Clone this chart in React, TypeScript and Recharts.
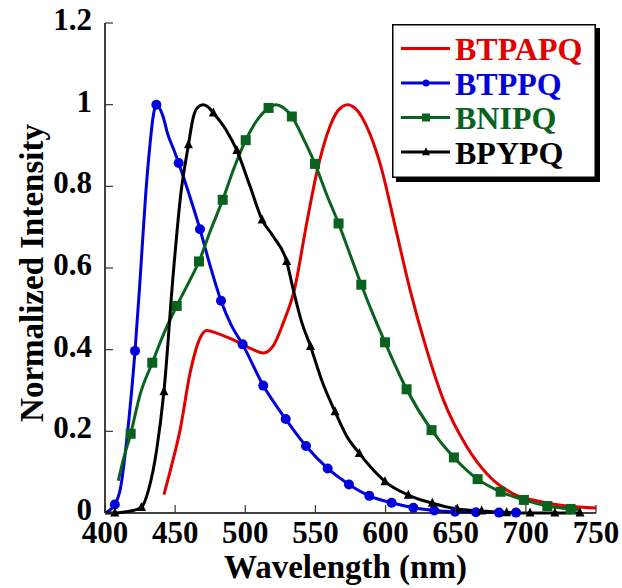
import React from "react";
import { LineChart, Line, XAxis, YAxis } from "recharts";

const FONT = "'Liberation Serif', 'Times New Roman', Times, serif";

const xTicks = [400, 450, 500, 550, 600, 650, 700, 750];
const yTicks = [0, 0.2, 0.4, 0.6, 0.8, 1, 1.2];

// [wavelength (nm), normalized intensity, 1 = draw marker]
const btpapq: number[][] = [
  [442, 0.045], [447, 0.11], [453.5, 0.203], [460.6, 0.342], [467.7, 0.428], [472.5, 0.447],
  [480, 0.44], [491.5, 0.424], [505.7, 0.4], [512.8, 0.392], [520, 0.41], [527, 0.465],
  [535, 0.547], [543.8, 0.71], [550.9, 0.833], [560.4, 0.947], [566, 0.985], [573, 1.0],
  [580, 0.985], [586.5, 0.947], [596, 0.857], [607.9, 0.686], [617.4, 0.547], [629.3, 0.4],
  [641.2, 0.277], [657.8, 0.163], [672, 0.097], [691, 0.047], [710, 0.028], [729, 0.017],
  [750, 0.012],
];

const btppq: number[][] = [
  [400, 0], [407, 0.021, 1], [411, 0.06], [415.5, 0.179], [421.4, 0.397, 1], [425, 0.571],
  [429, 0.78], [432, 0.9], [434.5, 0.975], [436.6, 1.0, 1], [441, 0.975], [445, 0.925],
  [449, 0.89], [452.5, 0.857, 1], [460, 0.78], [467.7, 0.695, 1], [475, 0.605],
  [482.7, 0.52, 1], [490, 0.46], [498.1, 0.413, 1], [512.8, 0.312, 1], [528.8, 0.23, 1],
  [543.3, 0.164, 1], [558.7, 0.109, 1], [573.9, 0.07, 1], [588.4, 0.042, 1],
  [604.3, 0.025, 1], [619.8, 0.013, 1], [634.7, 0.006, 1], [649.5, 0.003, 1],
  [664.4, 0.002, 1], [680.8, 0.001, 1], [693, 0.001, 1],
];

const bnipq: number[][] = [
  [409.5, 0.079], [413, 0.13], [418.3, 0.194, 1], [425, 0.29], [433.7, 0.368, 1],
  [442, 0.44], [451.1, 0.507, 1], [459, 0.56], [467, 0.616, 1], [475, 0.69],
  [483.9, 0.767, 1], [492, 0.845], [500.3, 0.913, 1], [508, 0.96], [516.6, 0.992, 1],
  [522, 1.0], [527, 0.993], [533.2, 0.971, 1], [541, 0.92], [549.7, 0.855, 1], [558, 0.78],
  [566.5, 0.709, 1], [574.5, 0.635], [582.7, 0.559, 1], [591, 0.487], [599.6, 0.418, 1],
  [615, 0.303, 1], [632.8, 0.203, 1], [648.7, 0.136, 1], [665.6, 0.083, 1], [682, 0.052, 1],
  [698.6, 0.032, 1], [715.3, 0.017, 1], [731.9, 0.01, 1], [739, 0.008],
];

const bpypq: number[][] = [
  [400, 0], [407, 0, 1], [415, 0.003], [420, 0.006], [426, 0.014, 1], [431, 0.056],
  [436.8, 0.154], [442, 0.297, 1], [448.7, 0.588], [454, 0.78], [459.5, 0.902, 1],
  [463, 0.97], [466, 0.993], [470, 1.0], [474, 0.993], [477.2, 0.98, 1], [486, 0.94],
  [494, 0.888, 1], [503.4, 0.8], [512, 0.718, 1], [520, 0.677], [529.5, 0.616, 1],
  [534.2, 0.547], [540, 0.47], [546.5, 0.408, 1], [555, 0.32], [564, 0.248, 1], [572, 0.19],
  [581.3, 0.146, 1], [590, 0.11], [599.6, 0.077, 1], [616.2, 0.044, 1], [633.3, 0.024, 1],
  [651.1, 0.01, 1], [668.5, 0.005, 1], [686.3, 0.001, 1], [703, 0, 1], [720.7, 0, 1],
  [738.6, 0, 1],
];

const toRows = (pts: number[][]) => pts.map(([x, y, m]) => ({ x, y, m: m === 1 }));

const series = [
  { name: "BTPAPQ", color: "#e00000", shape: "none", data: toRows(btpapq) },
  { name: "BTPPQ", color: "#0000dd", shape: "circle", data: toRows(btppq) },
  { name: "BNIPQ", color: "#09631e", shape: "square", data: toRows(bnipq) },
  { name: "BPYPQ", color: "#000000", shape: "triangle", data: toRows(bpypq) },
];

function Marker({ shape, color, cx, cy, s }: any) {
  if (shape === "circle") return <circle cx={cx} cy={cy} r={s / 2} fill={color} />;
  if (shape === "square") return <rect x={cx - s / 2} y={cy - s / 2} width={s} height={s} fill={color} />;
  if (shape === "triangle")
    return (
      <polygon
        points={`${cx},${cy - s * 0.6} ${cx + s / 2},${cy + s * 0.4} ${cx - s / 2},${cy + s * 0.4}`}
        fill={color}
      />
    );
  return null;
}

const makeDot = (shape: string, color: string) => (props: any) => {
  const { cx, cy, payload, index } = props;
  if (!payload || !payload.m || cx == null || cy == null) return <g key={`e${index}`} />;
  return (
    <g key={`d${index}`}>
      <Marker shape={shape} color={color} cx={cx} cy={cy} s={shape === "triangle" ? 9 : 10} />
    </g>
  );
};

const TICK = 8;
const axisLine = { stroke: "#000", strokeWidth: 1.5 };
const numFmt = (v: number) => String(v);

const BottomTick = (p: any) => (
  <g>
    <line x1={p.x} x2={p.x} y1={p.y} y2={p.y - TICK} stroke="#333" strokeWidth={1.2} />
    <text x={p.x} y={p.y + 30} textAnchor="middle" fontFamily={FONT} fontWeight="bold" fontSize={31} fill="#000">
      {numFmt(p.payload.value)}
    </text>
  </g>
);

const LeftTick = (p: any) => (
  <g>
    <line x1={p.x} x2={p.x + TICK} y1={p.y} y2={p.y} stroke="#333" strokeWidth={1.2} />
    <text x={p.x - 13} y={p.y + 7} textAnchor="end" fontFamily={FONT} fontWeight="bold" fontSize={31} fill="#000">
      {numFmt(p.payload.value)}
    </text>
  </g>
);

const TopTick = (p: any) => (
  <line x1={p.x} x2={p.x} y1={p.y} y2={p.y + TICK} stroke="#333" strokeWidth={1.2} />
);

const RightTick = (p: any) => (
  <line x1={p.x} x2={p.x - TICK} y1={p.y} y2={p.y} stroke="#333" strokeWidth={1.2} />
);

function LegendBox() {
  const w = 204;
  const h = 154;
  return (
    <svg width={w + 6} height={h + 6} style={{ position: "absolute", left: 392, top: 24 }}>
      <rect x={4} y={4} width={w} height={h} fill="#000" />
      <rect x={0.75} y={0.75} width={w - 1.5} height={h - 1.5} fill="#fff" stroke="#000" strokeWidth={1.5} />
      {series.map((s, i) => {
        const y = 24.5 + i * 34.5;
        return (
          <g key={s.name}>
            <line x1={9} x2={58} y1={y} y2={y} stroke={s.color} strokeWidth={3} />
            <Marker shape={s.shape} color={s.color} cx={34} cy={y} s={s.shape === "circle" ? 7 : 8} />
            <text x={63} y={y + 11.5} fontFamily={FONT} fontWeight="bold" fontSize={32} fill={s.color}>
              {s.name}
            </text>
          </g>
        );
      })}
    </svg>
  );
}

export default function App() {
  return (
    <div style={{ position: "absolute", left: 0, top: 0, width: 622, height: 588, background: "#fff" }}>
      <LineChart width={622} height={588} margin={{ top: 23, right: 26, bottom: 25, left: 0 }}>
        <XAxis
          xAxisId="b"
          type="number"
          dataKey="x"
          domain={[400, 750]}
          ticks={xTicks}
          interval={0}
          height={50}
          tickSize={0}
          tickMargin={0}
          tickLine={false}
          axisLine={axisLine}
          tick={BottomTick}
          label={{
            content: (props: any) => {
              const vb = props.viewBox;
              return (
                <text
                  x={vb.x + vb.width / 2 - 5}
                  y={vb.y + 65}
                  textAnchor="middle"
                  fontFamily={FONT}
                  fontWeight="bold"
                  fontSize={33}
                  fill="#000"
                >
                  Wavelength (nm)
                </text>
              );
            },
          }}
        />
        <XAxis
          xAxisId="t"
          orientation="top"
          type="number"
          dataKey="x"
          domain={[400, 750]}
          ticks={xTicks}
          interval={0}
          height={0}
          tickSize={0}
          tickMargin={0}
          tickLine={false}
          axisLine={axisLine}
          tick={TopTick}
        />
        <YAxis
          yAxisId="l"
          type="number"
          domain={[0, 1.2]}
          ticks={yTicks}
          interval={0}
          width={105}
          tickSize={0}
          tickMargin={0}
          tickLine={false}
          axisLine={axisLine}
          tick={LeftTick}
          label={{
            content: (props: any) => {
              const vb = props.viewBox;
              const cx = 43;
              const cy = vb.y + vb.height / 2 + 5;
              return (
                <text
                  x={cx}
                  y={cy}
                  transform={`rotate(-90, ${cx}, ${cy})`}
                  textAnchor="middle"
                  fontFamily={FONT}
                  fontWeight="bold"
                  fontSize={33}
                  fill="#000"
                >
                  Normalized Intensity
                </text>
              );
            },
          }}
        />
        <YAxis
          yAxisId="r"
          orientation="right"
          type="number"
          domain={[0, 1.2]}
          ticks={yTicks}
          interval={0}
          width={0}
          tickSize={0}
          tickMargin={0}
          tickLine={false}
          axisLine={axisLine}
          tick={RightTick}
        />
        {series.map((s) => (
          <Line
            key={s.name}
            xAxisId="b"
            yAxisId="l"
            data={s.data}
            dataKey="y"
            name={s.name}
            type="monotone"
            stroke={s.color}
            strokeWidth={3}
            dot={makeDot(s.shape, s.color)}
            activeDot={false}
            isAnimationActive={false}
          />
        ))}
      </LineChart>
      <LegendBox />
    </div>
  );
}
